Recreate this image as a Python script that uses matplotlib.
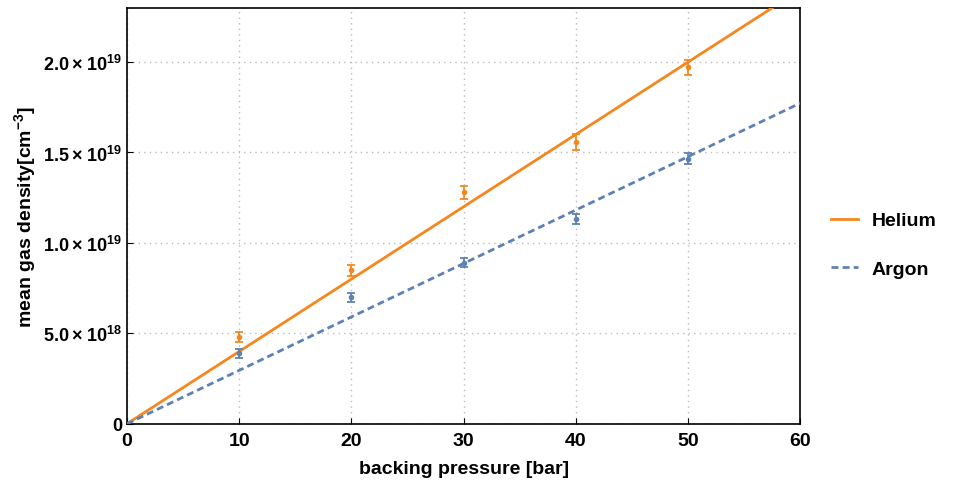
import matplotlib.pyplot as plt
import numpy as np
from matplotlib.ticker import FuncFormatter
from matplotlib.lines import Line2D

plt.rcParams['font.family'] = 'Liberation Sans'
plt.rcParams['font.weight'] = 'bold'
plt.rcParams['mathtext.fontset'] = 'custom'
plt.rcParams['mathtext.rm'] = 'Liberation Sans:bold'
plt.rcParams['mathtext.bf'] = 'Liberation Sans:bold'
plt.rcParams['mathtext.default'] = 'rm'

# data
pressure = [10, 20, 30, 40, 50]
helium = [4.8e18, 8.5e18, 1.28e19, 1.558e19, 1.97e19]
helium_err = [0.3e18, 0.3e18, 0.35e18, 0.45e18, 0.4e18]
argon = [3.9e18, 7.0e18, 8.9e18, 1.13e19, 1.465e19]
argon_err = [0.25e18, 0.25e18, 0.25e18, 0.28e18, 0.3e18]
helium_slope = 4.0e17
argon_slope = 2.955e17

orange = '#F5871F'
blue = '#5E81B5'

fig = plt.figure(figsize=(9.54, 4.85), dpi=100)
ax = fig.add_axes([0.133, 0.124, 0.706, 0.858])

xs = np.array([0, 60])
ax.plot(xs, helium_slope * xs, color=orange, lw=2, zorder=3)
ax.plot(xs, argon_slope * xs, color=blue, lw=2, ls=(0, (2.5, 1.5)), zorder=3)

ax.errorbar(pressure, helium, yerr=helium_err, fmt='o', ms=3, color=orange,
            capsize=3, elinewidth=1.3, capthick=1.3, zorder=4)
ax.errorbar(pressure, argon, yerr=argon_err, fmt='o', ms=3, color=blue,
            capsize=3, elinewidth=1.3, capthick=1.3, zorder=4)

ax.set_xlim(0, 60)
ax.set_ylim(0, 2.3e19)
ax.set_xticks([0, 10, 20, 30, 40, 50, 60])
ax.set_yticks([0, 5e18, 1e19, 1.5e19, 2e19])


def fmt(v, pos):
    if v == 0:
        return '0'
    e = int(np.floor(np.log10(v)))
    return r'$%.1f\times10^{%d}$' % (v / 10**e, e)


ax.yaxis.set_major_formatter(FuncFormatter(fmt))
ax.tick_params(labelsize=13, direction='in', length=4)
ax.tick_params(axis='x', labelsize=14, pad=6)
ax.grid(True, color='#bbbbbb', ls=(0, (1, 3)), lw=1)
for s in ax.spines.values():
    s.set_linewidth(1.2)

ax.set_xlabel('backing pressure [bar]', fontsize=14, fontweight='bold', labelpad=8)
ax.set_ylabel(r'mean gas density[cm$^{-3}$]', fontsize=14, fontweight='bold')

handles = [Line2D([], [], color=orange, lw=2),
           Line2D([], [], color=blue, lw=2, ls=(0, (2.5, 1.5)))]
fig.legend(handles, ['Helium', 'Argon'], loc='center left',
           bbox_to_anchor=(0.871, 0.493), frameon=False, fontsize=14,
           handlelength=1.4, handletextpad=0.7, labelspacing=1.6,
           borderpad=0, borderaxespad=0)

fig.savefig('out.png', dpi=100)
